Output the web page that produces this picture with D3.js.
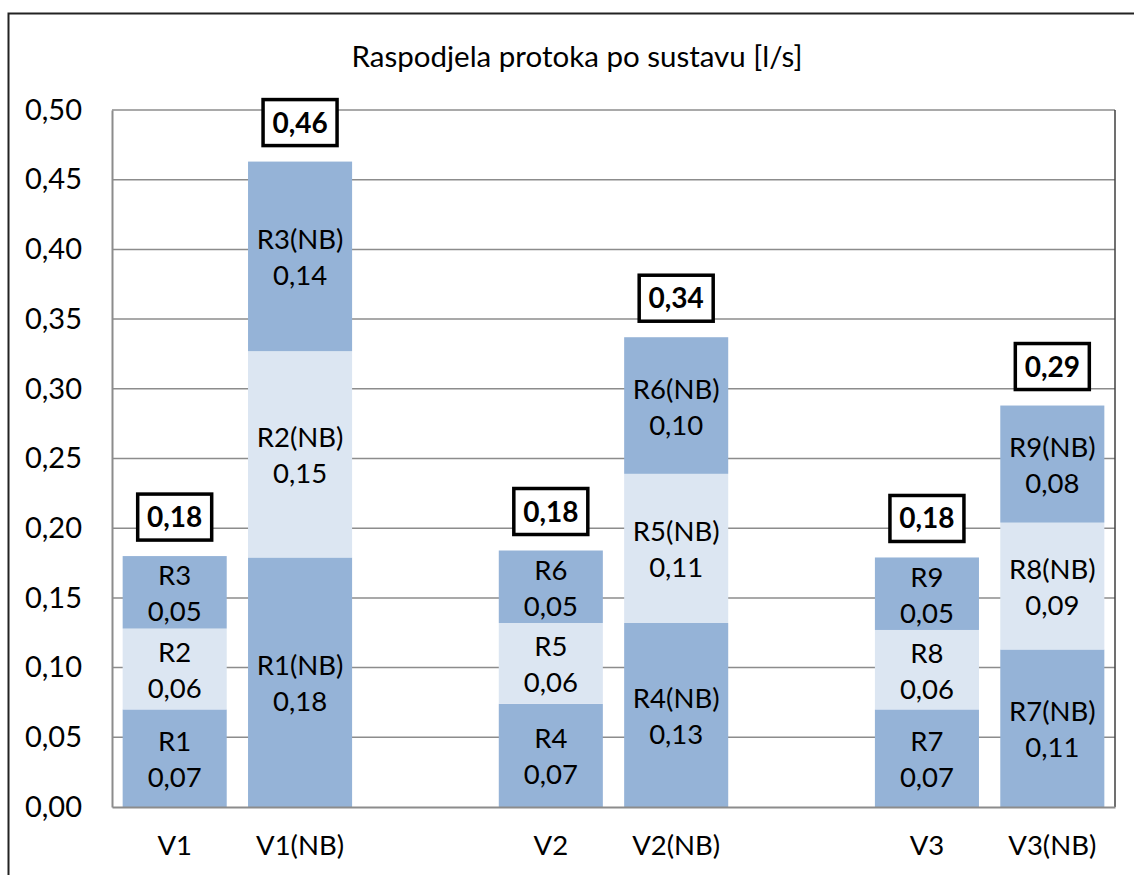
<!DOCTYPE html>
<html>
<head>
<meta charset="utf-8">
<script src="https://cdn.jsdelivr.net/npm/d3@7"></script>
<style>
  html, body { margin: 0; padding: 0; background: #fff; }
  svg { display: block; font-family: Lato, "Open Sans", sans-serif; }
</style>
</head>
<body>
<svg id="chart" width="1134" height="875"></svg>
<script>
// Slots along the x axis; empty strings are spacer slots between the groups
const categories = ["V1", "V1(NB)", "", "V2", "V2(NB)", "", "V3", "V3(NB)"];
const barSlots = [0, 1, 3, 4, 6, 7];

// Stacked flow segments, bottom to top [l/s]
const bottomNames = ["R1", "R1(NB)", "R4", "R4(NB)", "R7", "R7(NB)"];
const bottomValues = [0.070, 0.179, 0.074, 0.132, 0.070, 0.113];
const midNames = ["R2", "R2(NB)", "R5", "R5(NB)", "R8", "R8(NB)"];
const midValues = [0.058, 0.148, 0.058, 0.107, 0.057, 0.091];
const topNames = ["R3", "R3(NB)", "R6", "R6(NB)", "R9", "R9(NB)"];
const topValues = [0.052, 0.136, 0.052, 0.098, 0.052, 0.084];

const yTicks = [0, 0.05, 0.10, 0.15, 0.20, 0.25, 0.30, 0.35, 0.40, 0.45, 0.50];
const title = "Raspodjela protoka po sustavu [l/s]";

const colorDark = "#95b3d7";
const colorLight = "#dce6f2";

const svg = d3.select("#chart");
const fmt = v => d3.format(".2f")(v).replace(".", ",");

const plot = { left: 112, right: 1115, top: 110, bottom: 807 };

const x = d3.scaleBand()
  .domain(d3.range(categories.length))
  .range([plot.left, plot.right])
  .paddingInner(0.17)
  .paddingOuter(0.085);

const y = d3.scaleLinear().domain([0, 0.5]).range([plot.bottom, plot.top]);

// Outer chart frame
svg.append("rect")
  .attr("x", 8.5).attr("y", 13.5)
  .attr("width", 1140).attr("height", 880)
  .attr("fill", "none").attr("stroke", "#222").attr("stroke-width", 2);

// Title
svg.append("text")
  .attr("x", 577).attr("y", 67)
  .attr("text-anchor", "middle")
  .attr("font-size", 29.5)
  .attr("fill", "#000")
  .text(title);

// Horizontal gridlines
svg.append("g").selectAll("line")
  .data(yTicks.filter(t => t > 0))
  .join("line")
  .attr("x1", plot.left).attr("x2", plot.right)
  .attr("y1", d => y(d)).attr("y2", d => y(d))
  .attr("stroke", "#8c8c8c").attr("stroke-width", 1.5);

// Right edge of plot area
svg.append("line")
  .attr("x1", plot.right).attr("x2", plot.right)
  .attr("y1", plot.top).attr("y2", plot.bottom)
  .attr("stroke", "#404040").attr("stroke-width", 1.5);

// Y axis
const yAxis = svg.append("g")
  .attr("transform", `translate(${plot.left},0)`)
  .call(d3.axisLeft(y).tickValues(yTicks).tickFormat(fmt).tickSize(0).tickPadding(30));
yAxis.select(".domain").attr("stroke", "#8c8c8c").attr("stroke-width", 2);
yAxis.selectAll("text").attr("font-size", 29).attr("fill", "#000")
  .attr("font-family", "Lato, 'Open Sans', sans-serif");

// Stack the three series per bar
const rows = barSlots.map((slot, i) => ({
  slot,
  segs: [
    { name: bottomNames[i], value: bottomValues[i], color: colorDark },
    { name: midNames[i], value: midValues[i], color: colorLight },
    { name: topNames[i], value: topValues[i], color: colorDark }
  ]
}));
rows.forEach(r => {
  let acc = 0;
  r.segs.forEach(s => { s.y0 = acc; acc += s.value; s.y1 = acc; });
  r.total = acc;
});

const bars = svg.append("g").selectAll("g")
  .data(rows)
  .join("g");

bars.selectAll("rect")
  .data(d => d.segs.map(s => ({ ...s, slot: d.slot })))
  .join("rect")
  .attr("x", d => x(d.slot))
  .attr("width", x.bandwidth())
  .attr("y", d => y(d.y1))
  .attr("height", d => y(d.y0) - y(d.y1))
  .attr("fill", d => d.color);

// Segment labels: name and value on two lines
const segLabels = bars.selectAll("text.seg")
  .data(d => d.segs.map(s => ({ ...s, slot: d.slot })))
  .join("text")
  .attr("class", "seg")
  .attr("text-anchor", "middle")
  .attr("font-size", 27.5)
  .attr("fill", "#000");
segLabels.append("tspan")
  .attr("x", d => x(d.slot) + x.bandwidth() / 2)
  .attr("y", d => (y(d.y0) + y(d.y1)) / 2 - 18 + 11)
  .text(d => d.name);
segLabels.append("tspan")
  .attr("x", d => x(d.slot) + x.bandwidth() / 2)
  .attr("y", d => (y(d.y0) + y(d.y1)) / 2 + 18 + 11)
  .text(d => fmt(d.value));

// Boxed totals above each bar
const totals = bars.append("g")
  .attr("transform", d => `translate(${x(d.slot) + x.bandwidth() / 2},${y(d.total) - 39})`);
totals.append("rect")
  .attr("x", -37).attr("y", -23)
  .attr("width", 74).attr("height", 46)
  .attr("fill", "#fff").attr("stroke", "#000").attr("stroke-width", 3.5);
totals.append("text")
  .attr("text-anchor", "middle")
  .attr("y", 10)
  .attr("font-size", 28)
  .attr("font-weight", "bold")
  .attr("fill", "#000")
  .text(d => fmt(d.total));

// X axis
const xAxis = svg.append("g")
  .attr("transform", `translate(0,${plot.bottom})`)
  .call(d3.axisBottom(x).tickFormat(i => categories[i]).tickSize(0).tickPadding(28));
xAxis.select(".domain").attr("stroke", "#8c8c8c").attr("stroke-width", 2);
xAxis.selectAll("text").attr("font-size", 27.5).attr("fill", "#000")
  .attr("font-family", "Lato, 'Open Sans', sans-serif");
</script>
</body>
</html>
